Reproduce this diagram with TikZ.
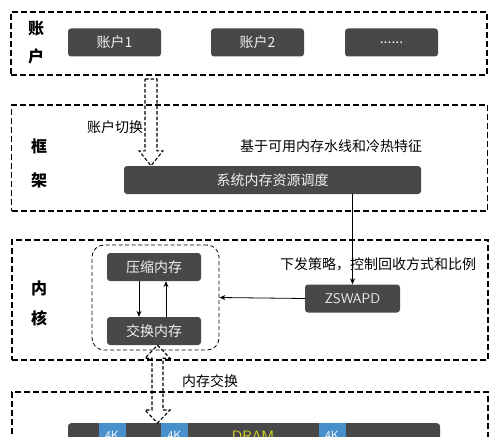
\documentclass[tikz,border=0pt]{standalone}
\usepackage{fontspec}
\setmainfont{Noto Sans CJK SC}
\usetikzlibrary{arrows.meta,calc}
\definecolor{boxgray}{RGB}{72,72,72}
\definecolor{cellblue}{RGB}{72,144,204}
\definecolor{dramyellow}{RGB}{214,214,40}
\begin{document}
\begin{tikzpicture}[x=1pt, y=-1pt,
  layer/.style={draw, line width=1.5pt, dash pattern=on 6pt off 3pt,
                minimum width=476pt, inner sep=0pt},
  group/.style={draw, line width=0.8pt, dash pattern=on 4pt off 2.5pt, rounded corners=12pt,
                minimum width=127pt, minimum height=105pt, inner sep=0pt},
  box/.style={fill=boxgray, rounded corners=3pt, text=white!88!gray,
              minimum height=28pt, inner sep=0pt, font=\fontsize{14}{16}\selectfont},
  cell/.style={fill=cellblue, minimum width=27pt, minimum height=40pt, inner sep=0pt},
  tag/.style={font=\bfseries\fontsize{16}{18}\selectfont},
  note/.style={font=\fontsize{14}{16}\selectfont},
  arr/.style={-{Stealth[length=6pt, width=5pt]}, thick},
  hollow/.style={draw, line width=1.1pt, dash pattern=on 3.5pt off 2pt}]

\useasboundingbox (0,0) rectangle (500,436);
\clip (0,0) rectangle (500,436);

% layers
\node[layer, minimum height=63pt]  (acct)   at (249,43.5) {};
\node[layer, minimum height=106pt] (frame)  at (249.5,158) {};
\node[layer, minimum height=120pt] (kernel) at (250,300) {};
\node[layer, minimum height=110pt] (hw)     at (250,447) {};

\node[tag] (t1a) at (36,29) {账};
\node[tag] (t1b) at (36,56) {户};
\node[tag] (t2a) at (39,146) {框};
\node[tag] (t2b) at (39,180) {架};
\node[tag] (t3a) at (39,288) {内};
\node[tag] (t3b) at (39,318) {核};

% account layer
\node[box, minimum width=93pt] (acc1) at (114.5,42.5) {账户1};
\node[box, minimum width=93pt] (acc2) at (257.5,42.5) {账户2};
\node[box, minimum width=93pt] (more) at (391.5,42.5) {......};

% framework layer
\node[box, minimum width=297pt] (sched) at (272.5,180) {系统内存资源调度};
\node[note] (switch) at (115,127) {账户切换};
\node[note] (basis)  at (331,146) {基于可用内存水线和冷热特征};

% kernel layer
\node[group] (pool) at (155.5,297.5) {};
\node[box, minimum width=94pt] (zram) at (154,267) {压缩内存};
\node[box, minimum width=94pt] (swap) at (154,331) {交换内存};
\node[box, minimum width=95pt, font=\sffamily\fontsize{14}{16}\selectfont] (zswapd) at (352.5,298.5) {ZSWAPD};
\node[note] (policy) at (378,264) {下发策略，控制回收方式和比例};

\draw[arr] ([xshift=-15pt]zram.south) -- ([xshift=-15pt]swap.north);
\draw[arr] ([xshift=12pt]swap.north) -- ([xshift=12pt]zram.south);
\draw[arr] (zswapd.west) -- (pool.east);
\draw[arr] (sched.south -| zswapd) -- (zswapd.north);

% hardware layer
\node[box, minimum width=372pt, minimum height=40pt, anchor=north] (dram) at (254,423) {};
\node[cell, anchor=north] (c1) at (112,423) {};
\node[cell, anchor=north] (c2) at (174.5,423) {};
\node[cell, anchor=north] (c3) at (332,423) {};
\node[text=white, font=\sffamily\fontsize{12}{14}\selectfont] (k1) at (112,435) {4K};
\node[text=white, font=\sffamily\fontsize{12}{14}\selectfont] (k2) at (174.5,435) {4K};
\node[text=white, font=\sffamily\fontsize{12}{14}\selectfont] (k3) at (332,435) {4K};
\node[text=dramyellow, font=\sffamily\fontsize{15}{17}\selectfont] (dramlbl) at (253,436) {DRAM};

% hollow arrows
\coordinate (top1) at (151,79);
\coordinate (tip1) at (sched.north -| top1);
\draw[hollow] ($(top1)+(-6,0)$) -- ($(top1)+(6,0)$) -- ($(tip1)+(6,-15)$)
  -- ($(tip1)+(12,-15)$) -- (tip1) -- ($(tip1)+(-12,-15)$)
  -- ($(tip1)+(-6,-15)$) -- cycle;

\coordinate (tip2) at ($(swap.south)+(3.5,0)$);
\coordinate (tip3) at (dram.north -| tip2);
\draw[hollow] (tip2) -- ($(tip2)+(12.5,13)$) -- ($(tip2)+(5.5,13)$)
  -- ($(tip3)+(5.5,-13)$) -- ($(tip3)+(12.5,-13)$) -- (tip3)
  -- ($(tip3)+(-12.5,-13)$) -- ($(tip3)+(-5.5,-13)$)
  -- ($(tip2)+(-5.5,13)$) -- ($(tip2)+(-12.5,13)$) -- cycle;
\node[note] (xchg) at (210,381) {内存交换};
\end{tikzpicture}
\end{document}
